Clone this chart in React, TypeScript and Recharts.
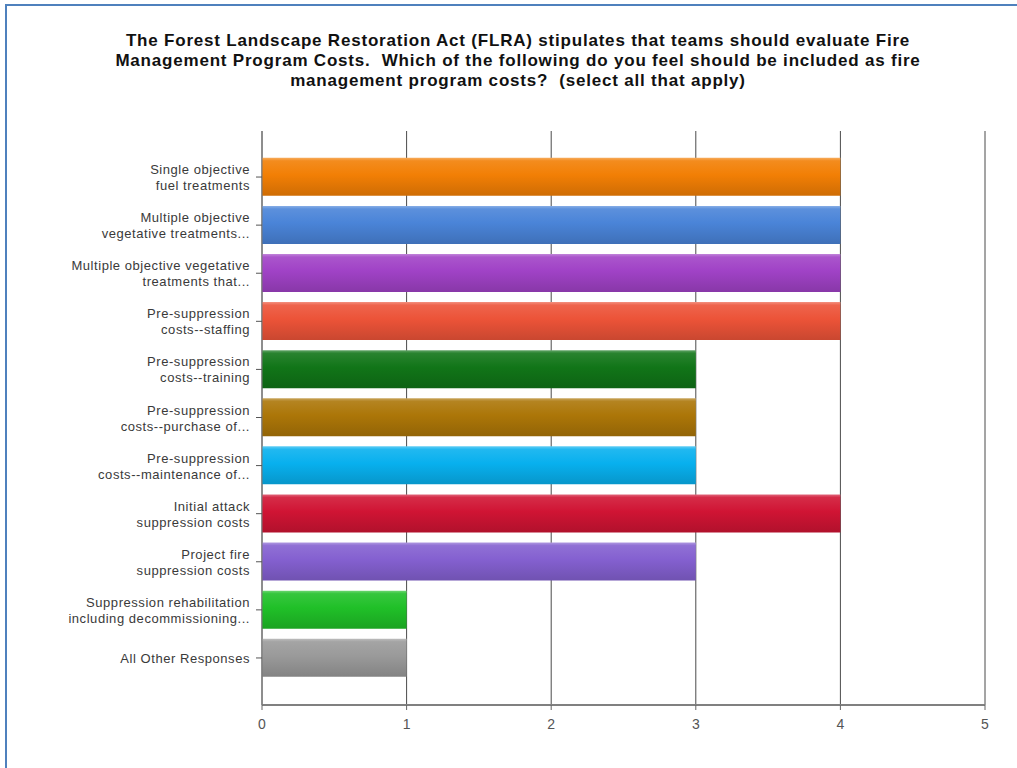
import React from 'react';
import { BarChart, Bar, XAxis, YAxis, CartesianGrid, Cell, ReferenceLine } from 'recharts';

const categories = [
  'Single objective\nfuel treatments',
  'Multiple objective\nvegetative treatments...',
  'Multiple objective vegetative\ntreatments that...',
  'Pre-suppression\ncosts--staffing',
  'Pre-suppression\ncosts--training',
  'Pre-suppression\ncosts--purchase of...',
  'Pre-suppression\ncosts--maintenance of...',
  'Initial attack\nsuppression costs',
  'Project fire\nsuppression costs',
  'Suppression rehabilitation\nincluding decommissioning...',
  'All Other Responses',
];
const values = [4, 4, 4, 4, 3, 3, 3, 4, 3, 1, 1];
const barColors = [
  '#f27f05', '#4a84d8', '#a042c6', '#ec5338', '#117518', '#ac7608',
  '#08b0ee', '#d01434', '#8460d0', '#20c028', '#9a9a9a',
];
const xTicks = [0, 1, 2, 3, 4, 5];
const titleLines = [
  'The Forest Landscape Restoration Act (FLRA) stipulates that teams should evaluate Fire',
  'Management Program Costs.  Which of the following do you feel should be included as fire',
  'management program costs?  (select all that apply)',
];

const data = categories.map((c, i) => ({ label: c, value: values[i] }));

function mix(hex: string, target: number, amt: number) {
  const n = parseInt(hex.slice(1), 16);
  const ch = [(n >> 16) & 255, (n >> 8) & 255, n & 255].map((v) =>
    Math.round(v + (target - v) * amt)
  );
  return '#' + ch.map((v) => v.toString(16).padStart(2, '0')).join('');
}

const FONT = 'Arial, "Liberation Sans", sans-serif';

const CatTick = (props: any) => {
  const { x, y, payload } = props;
  const lines = String(payload.value).split('\n');
  const lh = 16;
  const start = y - ((lines.length - 1) * lh) / 2;
  return (
    <text
      x={x}
      y={start}
      textAnchor="end"
      dominantBaseline="central"
      fontSize={13}
      letterSpacing={0.55}
      fill="#3a3a3a"
      fontFamily={FONT}
    >
      {lines.map((l, i) => (
        <tspan key={i} x={x} y={start + i * lh} dominantBaseline="central">
          {l}
        </tspan>
      ))}
    </text>
  );
};

export default function App() {
  return (
    <div
      style={{
        position: 'absolute',
        left: 0,
        top: 0,
        width: 1017,
        height: 768,
        background: '#fff',
        fontFamily: FONT,
        overflow: 'hidden',
      }}
    >
      <div style={{ position: 'absolute', left: 5, top: 4, width: 1012, height: 2, background: '#4f81bd' }} />
      <div style={{ position: 'absolute', left: 5, top: 4, width: 2, height: 764, background: '#4f81bd' }} />
      <div
        style={{
          position: 'absolute',
          left: 18,
          top: 31,
          width: 1000,
          textAlign: 'center',
          fontWeight: 'bold',
          fontSize: 17,
          letterSpacing: 0.8,
          lineHeight: '20px',
          color: '#111',
        }}
      >
        {titleLines.map((t, i) => (
          <div key={i} style={{ whiteSpace: 'pre' }}>{t}</div>
        ))}
      </div>
      <div style={{ position: 'absolute', left: 0, top: 0 }}>
        <BarChart
          layout="vertical"
          width={1017}
          height={768}
          data={data}
          margin={{ top: 131, right: 32, bottom: 23, left: 0 }}
          barCategoryGap="10%"
        >
          <defs>
            {barColors.map((c, i) => (
              <linearGradient key={i} id={`g${i}`} x1="0" y1="0" x2="0" y2="1">
                <stop offset="0%" stopColor={mix(c, 255, 0.35)} />
                <stop offset="8%" stopColor={mix(c, 255, 0.1)} />
                <stop offset="45%" stopColor={c} />
                <stop offset="100%" stopColor={mix(c, 0, 0.15)} />
              </linearGradient>
            ))}
          </defs>
          <CartesianGrid horizontal={false} vertical stroke="#4a4a4a" strokeWidth={1} />
          <XAxis
            type="number"
            domain={[0, 5]}
            ticks={xTicks}
            height={40}
            axisLine={{ stroke: '#808080', strokeWidth: 2 }}
            tickLine={{ stroke: '#666' }}
            tickSize={5}
            tickMargin={9}
            tick={{ fontSize: 14, fill: '#555', fontFamily: FONT }}
          />
          <YAxis
            type="category"
            dataKey="label"
            width={262}
            padding={{ top: 22, bottom: 23 }}
            axisLine={{ stroke: '#777' }}
            tickLine={{ stroke: '#555' }}
            tickSize={6}
            tickMargin={6}
            interval={0}
            tick={<CatTick />}
          />
          <Bar dataKey="value" isAnimationActive={false}>
            {data.map((_, i) => (
              <Cell key={i} fill={`url(#g${i})`} />
            ))}
          </Bar>
        </BarChart>
      </div>
    </div>
  );
}
